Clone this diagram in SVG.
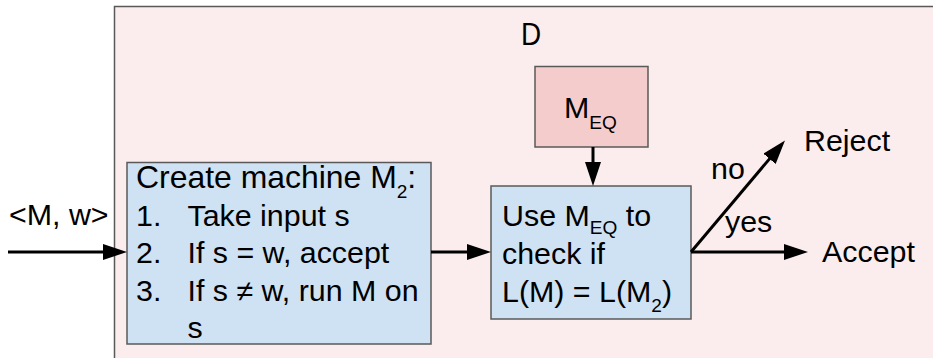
<svg xmlns="http://www.w3.org/2000/svg" width="933" height="358" viewBox="0 0 933 358">
<style>
.t{font-family:"Liberation Sans",Arial,sans-serif;font-size:29.5px;fill:#000}
.sub{font-size:18.5px}
.box{stroke:#595959;stroke-width:1.5}
.conn{stroke:#000;stroke-width:3;fill:none;marker-end:url(#ah)}
</style>
<defs>
<marker id="ah" markerUnits="userSpaceOnUse" markerWidth="24" markerHeight="16" refX="13" refY="8" orient="auto" viewBox="0 0 24 16">
<path d="M0,0 L24,8 L0,16 z" fill="#000"/>
</marker>
</defs>
<rect width="933" height="358" fill="#ffffff"/>
<g id="D">
<rect x="114.5" y="6.5" width="830" height="360" fill="#fbeded" class="box"/>
<text class="t" transform="translate(531,0) scale(0.9,1)" x="0" y="45" text-anchor="middle" style="font-size:31px">D</text>
</g>
<g id="create">
<rect x="127" y="162.5" width="304" height="181.5" fill="#cfe2f3" class="box"/>
<text class="t" transform="translate(136,0) scale(1.03,1)">
<tspan x="0" y="188" style="font-size:31px">Create machine M<tspan class="sub" dy="10">2</tspan><tspan dy="-10">:</tspan></tspan>
<tspan x="0" y="226">1.</tspan><tspan x="50" y="226">Take input s</tspan>
<tspan x="0" y="263.5">2.</tspan><tspan x="50" y="263.5">If s = w, accept</tspan>
<tspan x="0" y="301">3.</tspan><tspan x="50" y="301">If s ≠ w, run M on</tspan>
<tspan x="50" y="338.5">s</tspan>
</text>
</g>
<g id="meq">
<rect x="535" y="66.5" width="113" height="80.5" fill="#f4cccc" class="box"/>
<text class="t" transform="translate(564,0) scale(1.03,1)" x="0" y="118">M<tspan class="sub" dy="11">EQ</tspan></text>
</g>
<g id="use">
<rect x="491" y="186" width="200" height="133" fill="#cfe2f3" class="box"/>
<text class="t" transform="translate(502,0) scale(1.03,1)">
<tspan x="0" y="226">Use M<tspan class="sub" dy="8">EQ</tspan><tspan dy="-8"> to</tspan></tspan>
<tspan x="0" y="264.5">check if</tspan>
<tspan x="0" y="302">L(M) = L(M<tspan class="sub" dy="10">2</tspan><tspan dy="-10">)</tspan></tspan>
</text>
</g>
<g id="input">
<text class="t" transform="translate(9,0) scale(1.03,1)" x="0" y="225">&lt;M, w&gt;</text>
</g>
<g id="reject">
<text class="t" transform="translate(804,0) scale(1.03,1)" x="0" y="151">Reject</text>
</g>
<g id="accept">
<text class="t" transform="translate(822,0) scale(1.03,1)" x="0" y="262">Accept</text>
</g>
<g id="connectors">
<path class="conn" d="M8,252 H116"/>
<path class="conn" d="M431,252 H480"/>
<path class="conn" d="M593,147 V175"/>
<path class="conn" d="M691,252 L777.9,148.9"/>
<path class="conn" d="M691,252 H797"/>
<text class="t" transform="translate(711,0) scale(1.03,1)" x="0" y="179">no</text>
<text class="t" transform="translate(725,0) scale(1.03,1)" x="0" y="232">yes</text>
</g>
</svg>
